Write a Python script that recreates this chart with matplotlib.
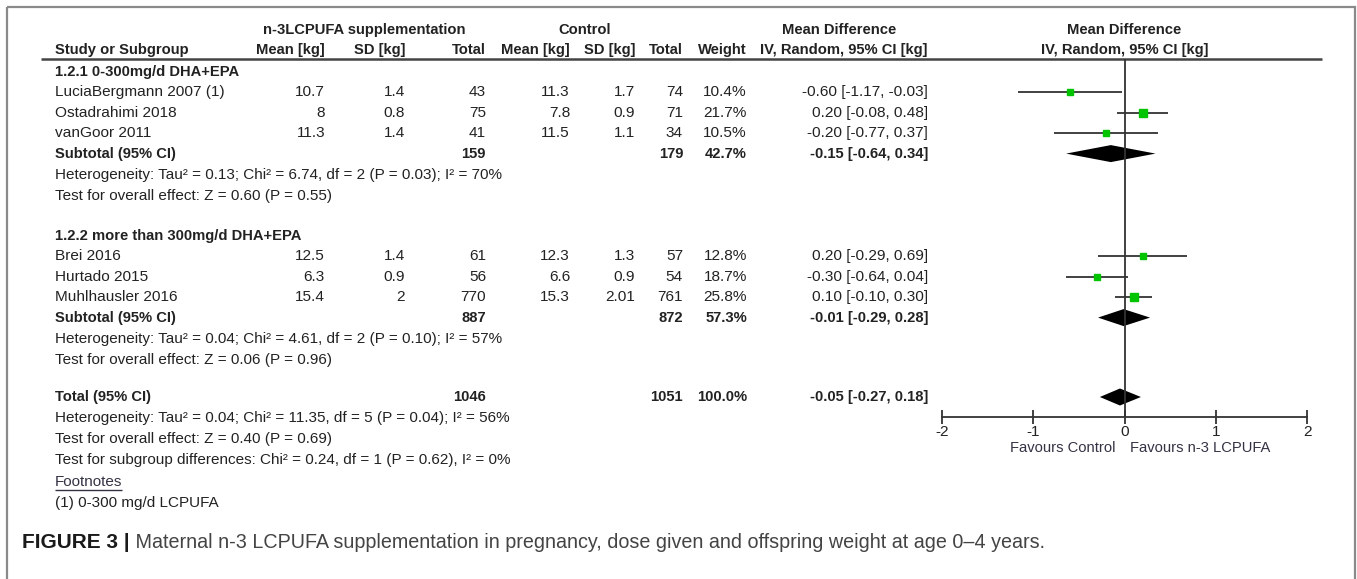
import matplotlib
matplotlib.use("Agg")
import matplotlib.pyplot as plt
from matplotlib.patches import Rectangle

plt.rcParams['font.family'] = ['Liberation Sans', 'DejaVu Sans']
plt.rcParams['axes.unicode_minus'] = False

# --------------------------- data ---------------------------
studies1 = ["LuciaBergmann 2007 (1)", "Ostadrahimi 2018", "vanGoor 2011"]
exp_mean1 = [10.7, 8, 11.3]
exp_sd1 = [1.4, 0.8, 1.4]
exp_n1 = [43, 75, 41]
ctl_mean1 = [11.3, 7.8, 11.5]
ctl_sd1 = [1.7, 0.9, 1.1]
ctl_n1 = [74, 71, 34]
weight1 = [10.4, 21.7, 10.5]
md1 = [-0.60, 0.20, -0.20]
lo1 = [-1.17, -0.08, -0.77]
hi1 = [-0.03, 0.48, 0.37]
sub1 = {"exp_n": 159, "ctl_n": 179, "weight": 42.7, "md": -0.15, "lo": -0.64, "hi": 0.34}
het1 = "Heterogeneity: Tau\u00b2 = 0.13; Chi\u00b2 = 6.74, df = 2 (P = 0.03); I\u00b2 = 70%"
test1 = "Test for overall effect: Z = 0.60 (P = 0.55)"

studies2 = ["Brei 2016", "Hurtado 2015", "Muhlhausler 2016"]
exp_mean2 = [12.5, 6.3, 15.4]
exp_sd2 = [1.4, 0.9, 2]
exp_n2 = [61, 56, 770]
ctl_mean2 = [12.3, 6.6, 15.3]
ctl_sd2 = [1.3, 0.9, 2.01]
ctl_n2 = [57, 54, 761]
weight2 = [12.8, 18.7, 25.8]
md2 = [0.20, -0.30, 0.10]
lo2 = [-0.29, -0.64, -0.10]
hi2 = [0.69, 0.04, 0.30]
sub2 = {"exp_n": 887, "ctl_n": 872, "weight": 57.3, "md": -0.01, "lo": -0.29, "hi": 0.28}
het2 = "Heterogeneity: Tau\u00b2 = 0.04; Chi\u00b2 = 4.61, df = 2 (P = 0.10); I\u00b2 = 57%"
test2 = "Test for overall effect: Z = 0.06 (P = 0.96)"

total = {"exp_n": 1046, "ctl_n": 1051, "weight": 100.0, "md": -0.05, "lo": -0.27, "hi": 0.18}
total_notes = ["Heterogeneity: Tau\u00b2 = 0.04; Chi\u00b2 = 11.35, df = 5 (P = 0.04); I\u00b2 = 56%",
               "Test for overall effect: Z = 0.40 (P = 0.69)",
               "Test for subgroup differences: Chi\u00b2 = 0.24, df = 1 (P = 0.62), I\u00b2 = 0%"]
group_titles = ["1.2.1 0-300mg/d DHA+EPA", "1.2.2 more than 300mg/d DHA+EPA"]
footnote = "(1) 0-300 mg/d LCPUFA"
x_ticks = [-2, -1, 0, 1, 2]
caption_bold = "FIGURE 3 |"
caption = "Maternal n-3 LCPUFA supplementation in pregnancy, dose given and offspring weight at age 0\u20134 years."

# --------------------------- layout ---------------------------
W, H = 1357, 579
TXT = '#222222'
FS_HEAD = 10.6
FS = 11.1
FS_NOTE = 11.0
col_left = 55
cols = [325, 405, 486, 570, 635, 683, 747, 928]  # right edges
plot_x0, plot_x1 = 942, 1307
y_axis = 417
y_rule = 59
diamond_h = 8.5

fig = plt.figure(figsize=(W / 100, H / 100), dpi=100)
ax = fig.add_axes([0, 0, 1, 1])
ax.set_xlim(0, W)
ax.set_ylim(H, 0)
ax.axis('off')

fax = fig.add_axes([plot_x0 / W, 0, (plot_x1 - plot_x0) / W, 1])
fax.set_xlim(-2, 2)
fax.set_ylim(H, 0)
fax.patch.set_alpha(0)
for s in ['top', 'left', 'right']:
    fax.spines[s].set_visible(False)
fax.spines['bottom'].set_position(('data', y_axis))
fax.spines['bottom'].set_color('#333333')
fax.spines['bottom'].set_linewidth(1.3)
fax.set_yticks([])
fax.set_xticks(x_ticks)
fax.set_xticklabels([str(t) for t in x_ticks])
fax.tick_params(axis='x', direction='inout', length=10, width=1.3, color='#333333',
                labelsize=FS, labelcolor=TXT, pad=1)

# frame
ax.add_patch(Rectangle((7, 7), 1348, 700, fill=False, edgecolor='#8a8a8a', lw=1.6, clip_on=False))

# header
ax.text(364, 30, "n-3LCPUFA supplementation", ha='center', va='center', fontsize=FS_HEAD, weight='bold', color=TXT)
ax.text(585, 30, "Control", ha='center', va='center', fontsize=FS_HEAD, weight='bold', color=TXT)
ax.text(839, 30, "Mean Difference", ha='center', va='center', fontsize=FS_HEAD, weight='bold', color=TXT)
fax.text(0, 30, "Mean Difference", ha='center', va='center', fontsize=FS_HEAD, weight='bold', color=TXT)
ax.text(col_left, 50, "Study or Subgroup", ha='left', va='center', fontsize=FS_HEAD, weight='bold', color=TXT)
for x, lab in zip(cols, ["Mean [kg]", "SD [kg]", "Total", "Mean [kg]", "SD [kg]", "Total", "Weight",
                         "IV, Random, 95% CI [kg]"]):
    ax.text(x, 50, lab, ha='right', va='center', fontsize=FS_HEAD, weight='bold', color=TXT)
fax.text(0, 50, "IV, Random, 95% CI [kg]", ha='center', va='center', fontsize=FS_HEAD, weight='bold', color=TXT)
ax.hlines(y_rule, 41, 1322, color='#444444', lw=1.8)
fax.vlines(0, y_rule, y_axis, color='#333333', lw=1.3)


def ci_text(m, l, h):
    return f"{m:.2f} [{l:.2f}, {h:.2f}]"


def draw_group(y0, title, names, em, es, en, cm, cs, cn, wt, md, lo, hi, sub, het, test):
    step = 20.4
    ax.text(col_left, y0, title, ha='left', va='center', fontsize=FS_HEAD, weight='bold', color=TXT)
    for i in range(len(names)):
        y = y0 + step * (i + 1)
        vals = [f"{em[i]:g}", f"{es[i]:g}", f"{en[i]}", f"{cm[i]:g}", f"{cs[i]:g}", f"{cn[i]}",
                f"{wt[i]:.1f}%", ci_text(md[i], lo[i], hi[i])]
        ax.text(col_left, y, names[i], ha='left', va='center', fontsize=FS, color=TXT)
        for x, v in zip(cols, vals):
            ax.text(x, y, v, ha='right', va='center', fontsize=FS, color=TXT)
        fax.hlines(y, lo[i], hi[i], color='#333333', lw=1.3)
        side = 1.6 * wt[i] ** 0.5 * 0.72
        fax.plot(md[i], y, marker='s', ms=side, color='#00c400', mec='#00c400', ls='none')
    y = y0 + step * (len(names) + 1)
    draw_summary(y, "Subtotal (95% CI)", sub)
    ax.text(col_left, y + 21, het, ha='left', va='center', fontsize=FS_NOTE, color=TXT)
    ax.text(col_left, y + 42, test, ha='left', va='center', fontsize=FS_NOTE, color=TXT)


def draw_summary(y, label, s):
    ax.text(col_left, y, label, ha='left', va='center', fontsize=FS_HEAD, weight='bold', color=TXT)
    for x, v in zip([cols[2], cols[5], cols[6], cols[7]],
                    [f"{s['exp_n']}", f"{s['ctl_n']}", f"{s['weight']:.1f}%", ci_text(s['md'], s['lo'], s['hi'])]):
        ax.text(x, y, v, ha='right', va='center', fontsize=FS_HEAD, weight='bold', color=TXT)
    fax.fill([s['lo'], s['md'], s['hi'], s['md']], [y, y - diamond_h, y, y + diamond_h], color='black', lw=0)


draw_group(72, group_titles[0], studies1, exp_mean1, exp_sd1, exp_n1, ctl_mean1, ctl_sd1, ctl_n1,
           weight1, md1, lo1, hi1, sub1, het1, test1)
draw_group(236, group_titles[1], studies2, exp_mean2, exp_sd2, exp_n2, ctl_mean2, ctl_sd2, ctl_n2,
           weight2, md2, lo2, hi2, sub2, het2, test2)
draw_summary(397, "Total (95% CI)", total)
for i, t in enumerate(total_notes):
    ax.text(col_left, 418 + 21 * i, t, ha='left', va='center', fontsize=FS_NOTE, color=TXT)

fn = ax.text(col_left, 482, "Footnotes", ha='left', va='center', fontsize=FS_NOTE, color='#333344')
ax.text(col_left, 503, footnote, ha='left', va='center', fontsize=FS_NOTE, color=TXT)

fax.text(-0.1, 448, "Favours Control", ha='right', va='center', fontsize=FS_HEAD, color='#333344')
fax.text(0.065, 448, "Favours n-3 LCPUFA", ha='left', va='center', fontsize=FS_HEAD, color='#333344')

cb = ax.text(22, 542, caption_bold, ha='left', va='center', fontsize=15, weight='bold', color='#1a1a1a')
ax.annotate(" " + caption, xy=(1, 0.5), xycoords=cb, ha='left', va='center', fontsize=14.2, color='#444444')

# underline footnotes heading
fig.canvas.draw()
bb = fn.get_window_extent().transformed(ax.transData.inverted())
ax.hlines(bb.y0 + 1, bb.x0, bb.x1, color='#333344', lw=1)

fig.savefig("out.png", dpi=100)
